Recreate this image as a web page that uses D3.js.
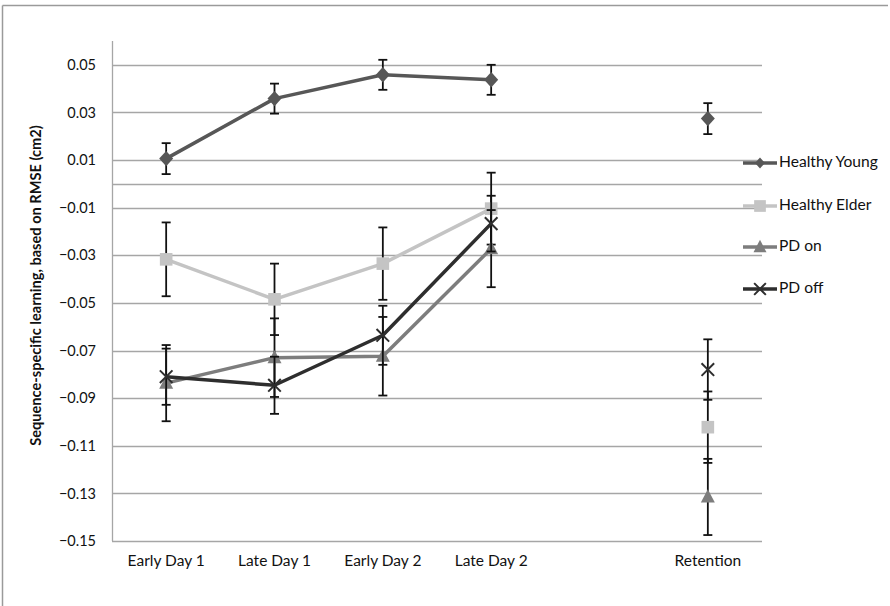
<!DOCTYPE html>
<html>
<head>
<meta charset="utf-8">
<script src="https://cdn.jsdelivr.net/npm/d3@7"></script>
<style>
  body { margin: 0; background: #fff; }
  svg { display: block; }
  text { font-family: Lato, "Open Sans", sans-serif; fill: #111; }
</style>
</head>
<body>
<svg id="chart" width="890" height="606"></svg>
<script>
// ---- Data ----
const categories = ["Early Day 1", "Late Day 1", "Early Day 2", "Late Day 2", "", "Retention"];
const seriesNames = ["Healthy Young", "Healthy Elder", "PD on", "PD off"];
const youngValues = [0.0106, 0.0358, 0.0458, 0.0437, null, 0.0274];
const youngErrors = [0.0065, 0.0063, 0.0063, 0.0063, null, 0.0065];
const elderValues = [-0.0317, -0.0485, -0.0335, -0.0104, null, -0.1022];
const elderErrors = [0.0155, 0.015, 0.0152, 0.0151, null, 0.015];
const pdOnValues = [-0.0837, -0.073, -0.0724, -0.0272, null, -0.1315];
const pdOnErrors = [0.016, 0.0165, 0.0165, 0.0162, null, 0.016];
const pdOffValues = [-0.081, -0.0846, -0.0636, -0.0167, null, -0.078];
const pdOffErrors = [0.0118, 0.012, 0.0124, 0.0117, null, 0.0127];
const yTicks = [0.05, 0.03, 0.01, -0.01, -0.03, -0.05, -0.07, -0.09, -0.11, -0.13, -0.15];
const yTitle = "Sequence-specific learning, based on RMSE (cm2)";

const series = [
  { name: seriesNames[0], values: youngValues, errors: youngErrors, color: "#575757", marker: "diamond" },
  { name: seriesNames[1], values: elderValues, errors: elderErrors, color: "#c4c4c4", marker: "square" },
  { name: seriesNames[2], values: pdOnValues, errors: pdOnErrors, color: "#7d7d7d", marker: "triangle" },
  { name: seriesNames[3], values: pdOffValues, errors: pdOffErrors, color: "#2e2e2e", marker: "x" }
];

// ---- Layout ----
const svg = d3.select("#chart");
const plot = { left: 112, right: 762, top: 41, bottom: 541 };

const x = d3.scaleBand().domain(categories).range([plot.left, plot.right]).padding(0);
const cx = c => x(c) + x.bandwidth() / 2;
const y = d3.scaleLinear().domain([-0.15, 0.06]).range([plot.bottom, plot.top]);

// outer frame
svg.append("line").attr("x1", 2.5).attr("x2", 888).attr("y1", 5.5).attr("y2", 5.5)
  .attr("stroke", "#9a9a9a").attr("stroke-width", 1.5);
svg.append("line").attr("x1", 2.5).attr("x2", 2.5).attr("y1", 5.5).attr("y2", 606)
  .attr("stroke", "#9a9a9a").attr("stroke-width", 1.5);

// gridlines
svg.append("g").selectAll("line").data(yTicks).join("line")
  .attr("x1", plot.left).attr("x2", plot.right)
  .attr("y1", d => Math.round(y(d)) + 0.5).attr("y2", d => Math.round(y(d)) + 0.5)
  .attr("stroke", "#a6a6a6").attr("stroke-width", 1.3);

// category axis at zero
svg.append("line").attr("x1", plot.left).attr("x2", plot.right)
  .attr("y1", Math.round(y(0)) + 0.5).attr("y2", Math.round(y(0)) + 0.5)
  .attr("stroke", "#a6a6a6").attr("stroke-width", 1.3);

// value axis line
svg.append("line").attr("x1", plot.left + 0.5).attr("x2", plot.left + 0.5)
  .attr("y1", plot.top).attr("y2", plot.bottom)
  .attr("stroke", "#a6a6a6").attr("stroke-width", 1.3);

// y tick labels
const yAxis = d3.axisLeft(y).tickValues(yTicks).tickSize(0).tickPadding(16)
  .tickFormat(d => d3.format(".2f")(d));
const yg = svg.append("g").attr("transform", `translate(${plot.left},0)`).call(yAxis);
yg.select(".domain").remove();
yg.selectAll("text").style("font-family", "Lato, sans-serif").style("font-size", "14.5px").attr("fill", "#111");

// x labels
const xAxis = d3.axisBottom(x).tickSize(0).tickPadding(14);
const xg = svg.append("g").attr("transform", `translate(0,${plot.bottom})`).call(xAxis);
xg.select(".domain").remove();
xg.selectAll("text").style("font-family", "Lato, sans-serif").style("font-size", "15.5px").attr("fill", "#111");

// y title
svg.append("text")
  .attr("transform", `translate(37,${(83 + 488) / 2}) rotate(-90)`)
  .attr("text-anchor", "middle")
  .attr("dominant-baseline", "middle")
  .style("font-weight", "bold").style("font-size", "14.6px")
  .text(yTitle);

// marker drawing
function drawMarker(g, type, color, px, py, s) {
  if (type === "diamond") {
    g.append("path").attr("d", `M${px},${py - s * 0.55}L${px + s * 0.5},${py}L${px},${py + s * 0.55}L${px - s * 0.5},${py}Z`)
      .attr("fill", color);
  } else if (type === "square") {
    g.append("rect").attr("x", px - s * 0.45).attr("y", py - s * 0.45).attr("width", s * 0.9).attr("height", s * 0.9)
      .attr("fill", color);
  } else if (type === "triangle") {
    g.append("path").attr("d", `M${px},${py - s * 0.55}L${px + s * 0.5},${py + s * 0.4}L${px - s * 0.5},${py + s * 0.4}Z`)
      .attr("fill", color);
  } else if (type === "x") {
    const h = s * 0.45;
    g.append("path").attr("d", `M${px - h},${py - h}L${px + h},${py + h}M${px - h},${py + h}L${px + h},${py - h}`)
      .attr("stroke", color).attr("stroke-width", 2);
  }
}

const line = d3.line()
  .defined(d => d.v !== null)
  .x(d => cx(d.c)).y(d => y(d.v));

series.forEach(s => {
  const g = svg.append("g");
  const pts = categories.map((c, i) => ({ c, v: s.values[i], e: s.errors[i] }));
  g.append("path").datum(pts).attr("d", line)
    .attr("fill", "none").attr("stroke", s.color).attr("stroke-width", 3.5)
    .attr("stroke-linejoin", "round");
  pts.filter(d => d.v !== null).forEach(d => {
    const px = cx(d.c);
    const y1 = y(d.v + d.e), y2 = y(d.v - d.e);
    g.append("line").attr("x1", px).attr("x2", px).attr("y1", y1).attr("y2", y2)
      .attr("stroke", "#111").attr("stroke-width", 1.8);
    [y1, y2].forEach(yy => {
      g.append("line").attr("x1", px - 4.5).attr("x2", px + 4.5).attr("y1", yy).attr("y2", yy)
        .attr("stroke", "#111").attr("stroke-width", 1.8);
    });
  });
  pts.filter(d => d.v !== null).forEach(d => drawMarker(g, s.marker, s.color, cx(d.c), y(d.v), 14));
});

// legend
const legendY = [163, 206, 247, 289];
series.forEach((s, i) => {
  const g = svg.append("g");
  const ly = legendY[i];
  g.append("line").attr("x1", 743).attr("x2", 777).attr("y1", ly).attr("y2", ly)
    .attr("stroke", s.color).attr("stroke-width", 3.5);
  drawMarker(g, s.marker, s.color, 760, ly, s.marker === "diamond" ? 10 : 13);
  g.append("text").attr("x", 779).attr("y", ly).attr("dominant-baseline", "middle")
    .style("font-size", "15.6px").text(s.name);
});
</script>
</body>
</html>
